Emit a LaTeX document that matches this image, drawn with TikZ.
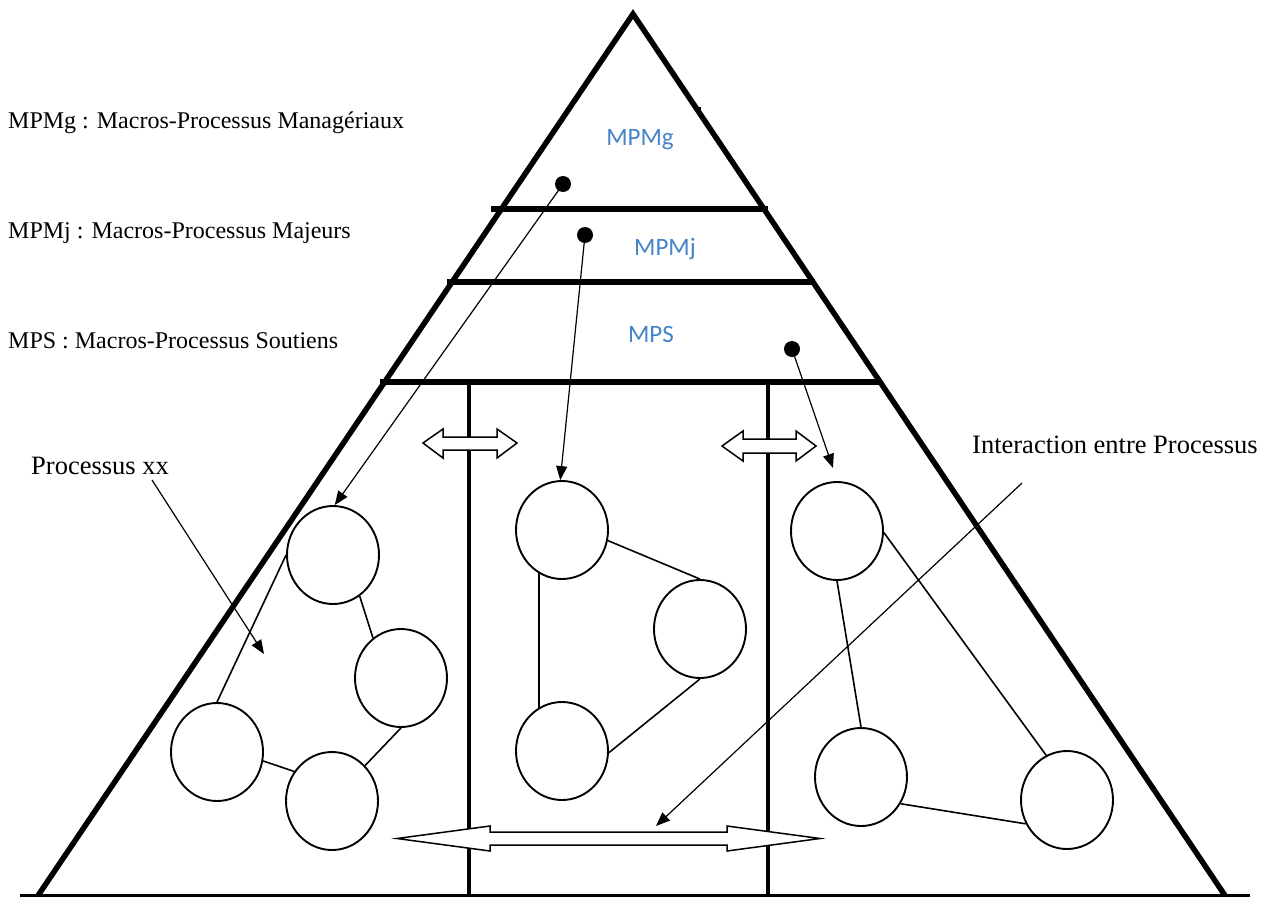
\documentclass[tikz,border=0pt]{standalone}
\usepackage{fontspec}
\setmainfont{Liberation Serif}
\newfontfamily\layerfont{Carlito}
\usetikzlibrary{shapes.geometric,arrows.meta}
\definecolor{layerblue}{RGB}{68,132,200}
\begin{document}
\begin{tikzpicture}[x=1pt,y=-1pt,
  edgeline/.style={line width=5.5pt},
  wallline/.style={line width=4.5pt},
  proc/.style={ellipse,draw,line width=1.9pt,minimum width=92pt,minimum height=98pt,inner sep=0pt},
  link/.style={line width=1.6pt},
  conn/.style={line width=1.2pt,-{Triangle[length=14pt,width=11pt]}},
  dotn/.style={circle,fill=black,minimum size=16pt,inner sep=0pt},
  legend/.style={font=\fontsize{24}{28}\selectfont,anchor=base west,inner sep=0pt},
  legendbig/.style={font=\fontsize{26.5}{30}\selectfont,anchor=base west,inner sep=0pt},
  layer/.style={font=\layerfont\fontsize{25}{30}\selectfont,text=layerblue,anchor=base,inner sep=0pt},
  dblarrow/.style={draw,fill=white,line width=1.5pt,line join=miter}
]
\useasboundingbox (0,0) rectangle (1272,897);
\clip (0,0) rectangle (1272,897);
\fill[white] (0,0) rectangle (1272,897);

% pyramid outline
\draw[edgeline,line join=miter,miter limit=10] (35,900) -- (633,14) -- (1228,900);
\draw[edgeline] (20,897) -- (1250,897);
\draw[line width=3pt] (699,107) -- (699,116);

% layer separators
\draw[edgeline] (491,209) -- (768,209);
\draw[edgeline] (447,282) -- (815,282);
\draw[edgeline] (380,382) -- (880,382);

% walls between process areas
\draw[wallline] (469,382) -- (469,897);
\draw[wallline] (768,382) -- (768,897);

% legends
\node[legend] (lg1) at (8,128) {MPMg : Macros-Processus Managériaux};
\node[legend] (lg2) at (8,238) {MPMj : Macros-Processus Majeurs};
\node[legend] (lg3) at (8,348) {MPS : Macros-Processus Soutiens};
\node[legendbig] (pxx) at (31,474) {Processus xx};
\node[legendbig] (inter) at (972,453) {Interaction entre Processus};

% layer names
\node[layer] (t1) at (640,145) {MPMg};
\node[layer] (t2) at (665,255) {MPMj};
\node[layer] (t3) at (651,342) {MPS};

% processes
\node[proc] (A) at (333,555) {};
\node[proc] (B) at (401,678) {};
\node[proc] (C) at (217,752) {};
\node[proc] (D) at (332,801) {};
\node[proc] (E) at (562,530) {};
\node[proc] (F) at (700,629) {};
\node[proc] (G) at (562,751) {};
\node[proc] (H) at (837,531) {};
\node[proc] (I) at (861,777) {};
\node[proc] (J) at (1067,800) {};

% links between processes
\draw[link] (A.180) -- (C.90);
\draw[link] (A.-57) -- (B.125);
\draw[link] (B.-90) -- (D.47);
\draw[link] (C.-11) -- (D.142);
\draw[link] (E.-13) -- (F.90);
\draw[link] (E.-118) -- (G.118);
\draw[link] (F.-90) -- (G.-2);
\draw[link] (H.-90) -- (I.90);
\draw[link] (H.-2) -- (J.115);
\draw[link] (I.-34) -- (J.-150);

% layer markers and their arrows
\node[dotn] (d1) at (563,184) {};
\node[dotn] (d2) at (585,235) {};
\node[dotn] (d3) at (792,349) {};
\coordinate (h3) at (833,468);
\draw[conn] (d1.center) -- (A.88);
\draw[conn] (d2.center) -- (E.92);
\draw[conn] (d3.center) -- (h3);

% pointer arrows from the captions
\coordinate (p1) at (152,480);
\coordinate (p2) at (264,654);
\draw[conn] (p1) -- (p2);
\coordinate (q1) at (1022,483);
\coordinate (q2) at (656,826);
\draw[conn] (q1) -- (q2);

% interaction arrows
\draw[dblarrow] (423,443) -- (443,429) -- (443,437) -- (497,437) -- (497,429) -- (517,443)
  -- (497,458) -- (497,450) -- (443,450) -- (443,458) -- cycle;
\draw[dblarrow] (722,446) -- (743,431) -- (743,439) -- (796,439) -- (796,431) -- (816,446)
  -- (796,461) -- (796,453) -- (743,453) -- (743,461) -- cycle;
\draw[dblarrow] (397,838.5) -- (490,826) -- (490,832) -- (727,832) -- (727,826) -- (820,838.5)
  -- (727,851) -- (727,845) -- (490,845) -- (490,851) -- cycle;
\end{tikzpicture}
\end{document}
